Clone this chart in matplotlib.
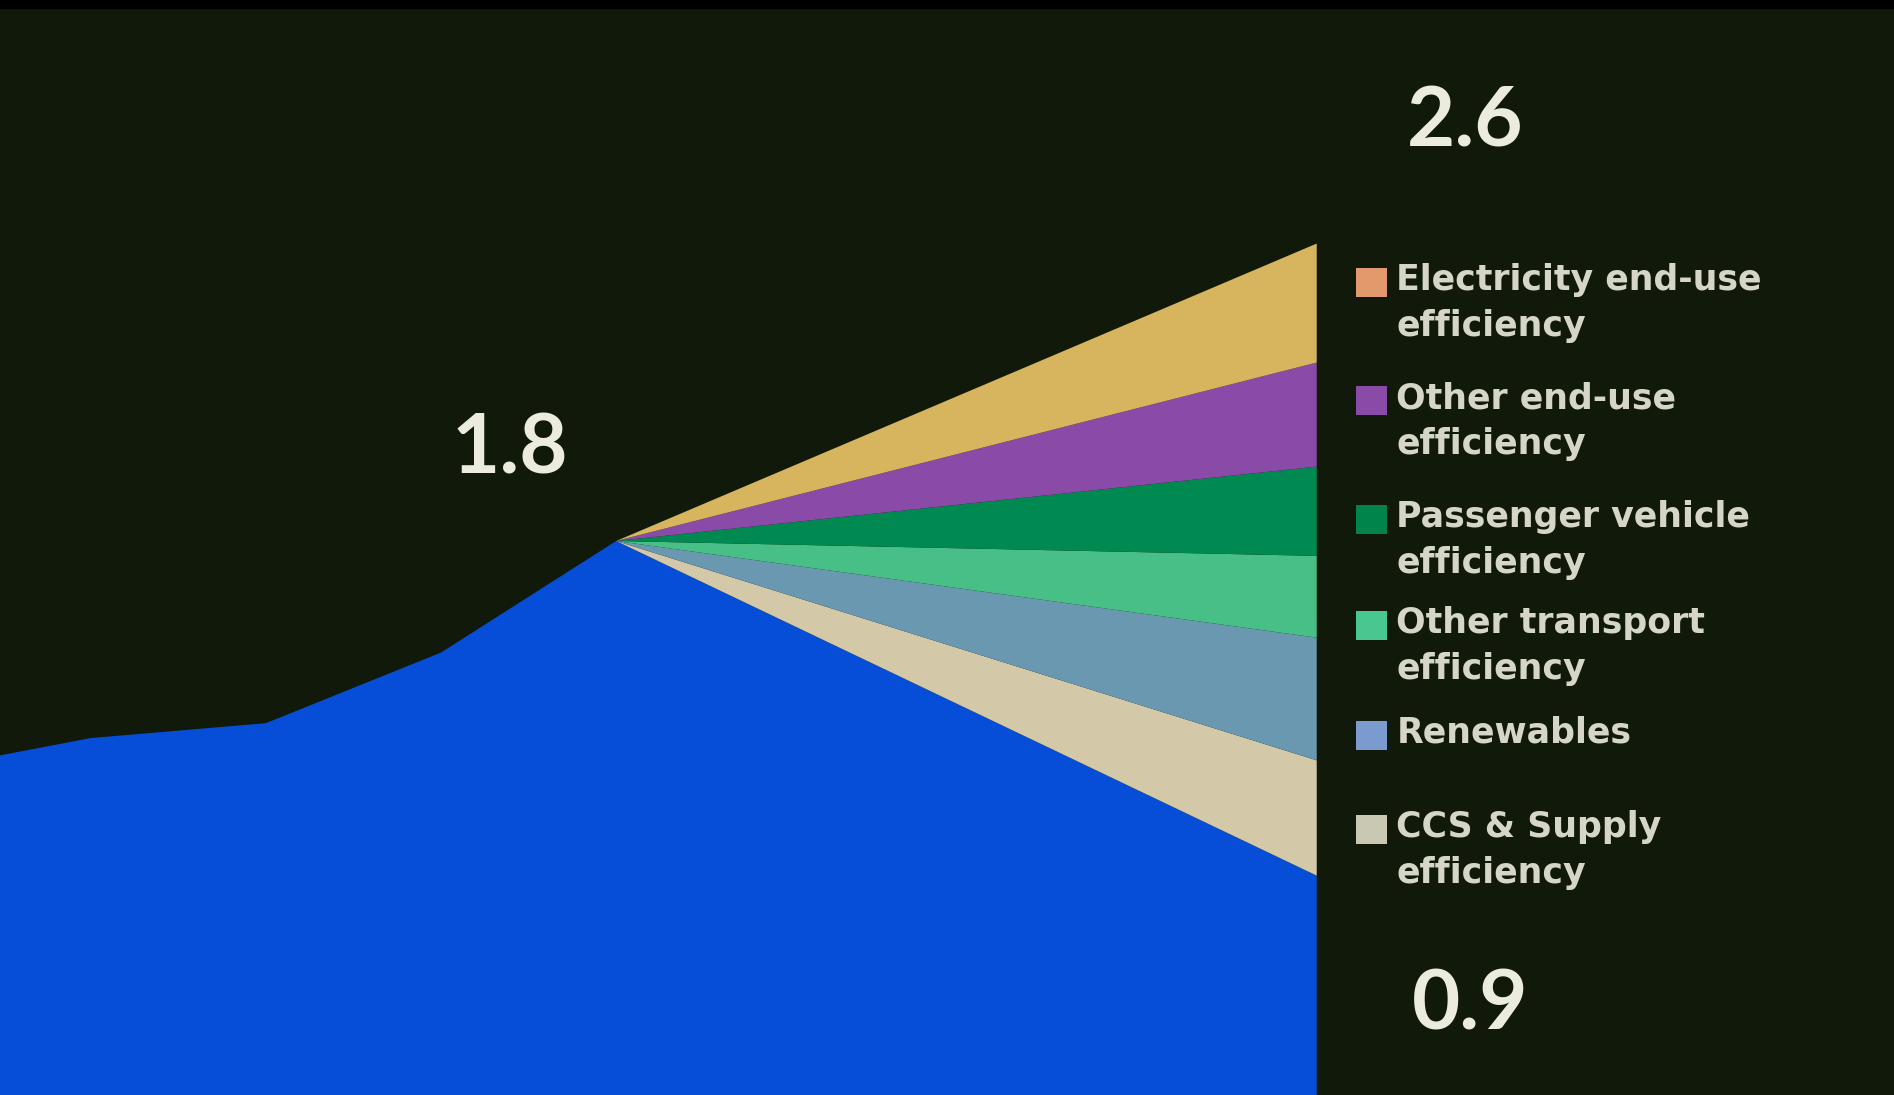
"""
Emissions wedge chart: historical emissions peaking, then a fan of
abatement wedges between business-as-usual and the reduced path.
"""
import matplotlib.pyplot as plt
from matplotlib.patches import Rectangle

# Data
years = [1990, 1995, 2000, 2005, 2010, 2030]
emissions = [1.18, 1.27, 1.31, 1.50, 1.80, 0.90]   # remaining emissions (blue)

wedge_labels = [
    'CCS & Supply\nefficiency',
    'Renewables',
    'Other transport\nefficiency',
    'Passenger vehicle\nefficiency',
    'Other end-use\nefficiency',
    'Electricity end-use\nefficiency',
]
wedge_values = [
    [0, 0, 0, 0, 0, 0.31],
    [0, 0, 0, 0, 0, 0.33],
    [0, 0, 0, 0, 0, 0.22],
    [0, 0, 0, 0, 0, 0.24],
    [0, 0, 0, 0, 0, 0.28],
    [0, 0, 0, 0, 0, 0.32],
]
callouts = ['1.8', '2.6', '0.9']

# Styles
bg = '#10190a'
blue = '#064ed8'
wedge_colors = ['#d3c8a8', '#6a98b0', '#48bf86', '#008a52', '#8a4aa8', '#d6b55e']
swatch_colors = ['#c9c8b2', '#7a9ad0', '#48c890', '#00844c', '#8a4aa8', '#e29a6c']
text_color = '#d6d6c8'

W, H = 1568.0, 907.0   # reference view size used for placing labels

fig = plt.figure(figsize=(18.94, 10.95), dpi=100, facecolor=bg)
ax = fig.add_axes([0, 0, 1, 1], facecolor=bg)
ax.stackplot(years, [emissions] + wedge_values,
             colors=[blue] + wedge_colors, linewidth=0)
ax.set_xlim(1992.41, 2046.48)
ax.set_ylim(0.31, 3.255)
ax.axis('off')

# black strip along the top edge (screen capture)
fig.patches.append(Rectangle((0, 0.992), 1, 0.008, transform=fig.transFigure,
                             facecolor='black', edgecolor='none'))

# big value labels
for txt, xd, yd in zip(callouts, [422, 1213, 1217], [373, 102, 833]):
    fig.text(xd / W, 1 - yd / H, txt, ha='center', va='center', color='#ececde',
             fontsize=60, fontweight='bold', family='Lato')

# legend, top to bottom
rows_y = [232, 330, 428, 516, 607, 685]
for label, sc, yd in zip(wedge_labels[::-1], swatch_colors[::-1], rows_y):
    fig.patches.append(Rectangle((1123 / W, 1 - (yd + 14) / H), 25 / W, 24 / H,
                                 transform=fig.transFigure,
                                 facecolor=sc, edgecolor='none'))
    for i, line in enumerate(label.split('\n')):
        fig.text(1156 / W, 1 - (yd + i * 38) / H, line, ha='left', va='center',
                 color=text_color, fontsize=25, fontweight='bold',
                 family='DejaVu Sans')

fig.savefig('out.png', dpi=100, facecolor=bg)
